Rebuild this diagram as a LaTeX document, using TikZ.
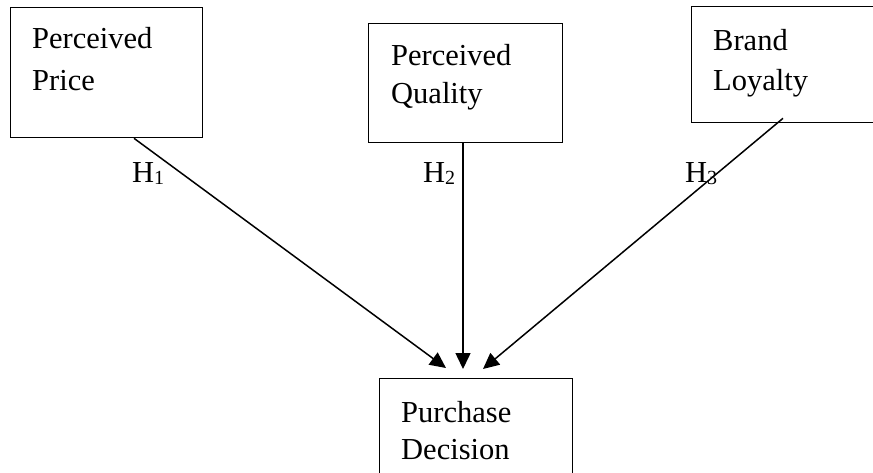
\documentclass[tikz,border=0pt]{standalone}
\usepackage{fontspec}
\setmainfont{Liberation Serif}
\usetikzlibrary{arrows.meta}
\newcommand{\hsub}[1]{\raisebox{-2pt}{\fontsize{20}{20}\selectfont #1}}
\begin{document}
\begin{tikzpicture}[x=1pt,y=-1pt,
  box/.style={draw, line width=1.3pt, inner sep=0pt, anchor=north west},
  txt/.style={anchor=base west, inner sep=0pt, align=left},
  hyp/.style={anchor=base west, inner sep=0pt, font=\fontsize{30.5}{36}\selectfont},
  arr/.style={line width=1.5pt, -{Triangle[length=16pt,width=15pt]}}]
\useasboundingbox (0,0) rectangle (873,472);
\clip (0,0) rectangle (873,472);
% boxes
\node[box, minimum width=192pt, minimum height=130pt] (pp) at (10,7) {};
\node[box, minimum width=194pt, minimum height=119pt] (pq) at (368,23) {};
\node[box, minimum width=220pt, minimum height=116pt] (bl) at (691,6) {};
\node[box, minimum width=193pt, minimum height=140pt] (pd) at (379,378) {};
% texts (anchored at the baseline of the last line)
\node[txt, font=\fontsize{30.5}{42}\selectfont] (ppt) at (32,90) {Perceived\\Price};
\node[txt, font=\fontsize{30.5}{38}\selectfont] (pqt) at (391,103) {Perceived\\Quality};
\node[txt, font=\fontsize{30.5}{40}\selectfont] (blt) at (713,90) {Brand\\Loyalty};
\node[txt, font=\fontsize{30.5}{37}\selectfont] (pdt) at (401,459) {Purchase\\Decision};
% connector ends
\coordinate (s1) at ([xshift=124pt]pp.south west);
\coordinate (s2) at ([xshift=95pt]pq.south west);
\coordinate (s3) at ([xshift=92pt,yshift=5pt]bl.south west);
\coordinate (e1) at ([xshift=67pt,yshift=10pt]pd.north west);
\coordinate (e2) at ([xshift=84pt,yshift=9pt]pd.north west);
\coordinate (e3) at ([xshift=104pt,yshift=9pt]pd.north west);
\draw[arr] (s1) -- (e1);
\draw[arr] (s2) -- (e2);
\draw[arr] (s3) -- (e3);
% hypothesis labels
\node[hyp] (h1) at (132,182) {H\hsub{1}};
\node[hyp] (h2) at (423,182) {H\hsub{2}};
\node[hyp] (h3) at (685,182) {H\hsub{3}};
\end{tikzpicture}
\end{document}
